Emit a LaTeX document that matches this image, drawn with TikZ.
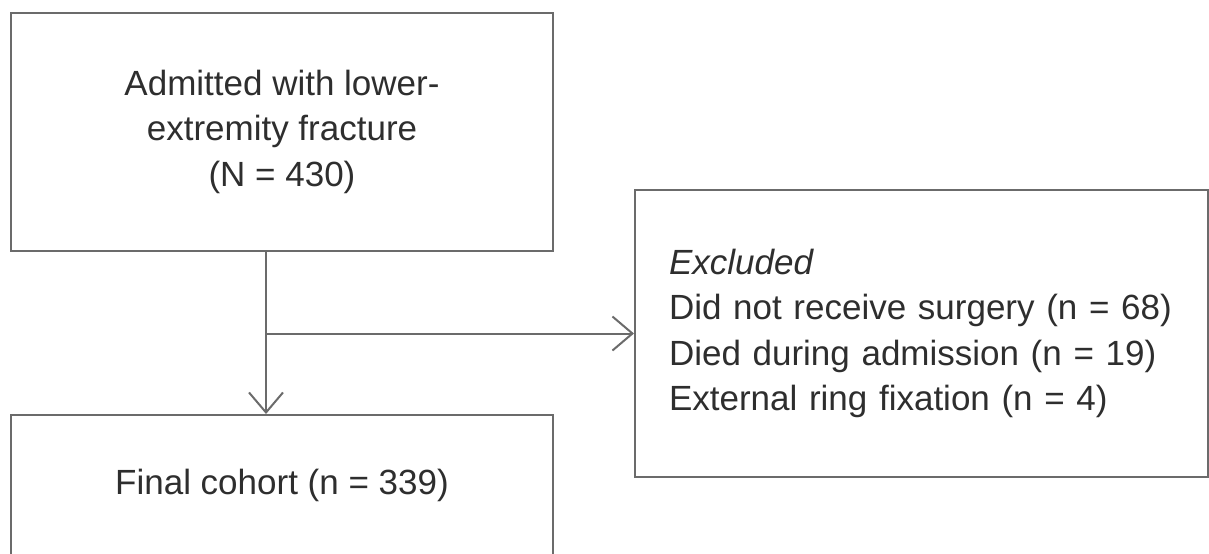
\documentclass[tikz,border=0pt]{standalone}
\usepackage{fontspec}
\setmainfont{Liberation Sans}
\usetikzlibrary{arrows.meta}
\definecolor{linegray}{HTML}{6B6B6B}
\definecolor{textgray}{HTML}{2E2E2E}
\begin{document}
\begin{tikzpicture}[x=0.5pt,y=-0.5pt]
	\tikzstyle{box}=[draw=linegray,line width=1pt,shape=rectangle,inner sep=0pt,text=textgray,font=\fontsize{17.5}{22.8}\selectfont]
	\tikzstyle{arr}=[draw=linegray,line width=1pt,-{Straight Barb[length=10pt,width=17pt]}]

	\useasboundingbox (0,0) rectangle (1209,553);
	\clip (0,0) rectangle (1209,553);

	\node[box,minimum width=271pt,minimum height=119pt,align=center](admit) at (282,131.7){Admitted with lower-\\extremity fracture\\(N = 430)};
	\node[box,minimum width=271pt,minimum height=70pt](final) at (282,485){Final cohort (n = 339)};
	\node[box,text width=252.5pt,inner xsep=17pt,minimum height=143.5pt,align=left](excl) at (921.5,333.5){\textit{Excluded}\\Did not receive surgery (n = 68)\\Died during admission (n = 19)\\External ring fixation (n = 4)};

	\coordinate (trunk) at ([xshift=-8pt]admit.south);
	\coordinate (split) at (trunk |- excl.west);
	\draw[arr] (trunk) -- ([xshift=-8pt]final.north);
	\draw[arr] (split) -- (excl.west);
\end{tikzpicture}
\end{document}
